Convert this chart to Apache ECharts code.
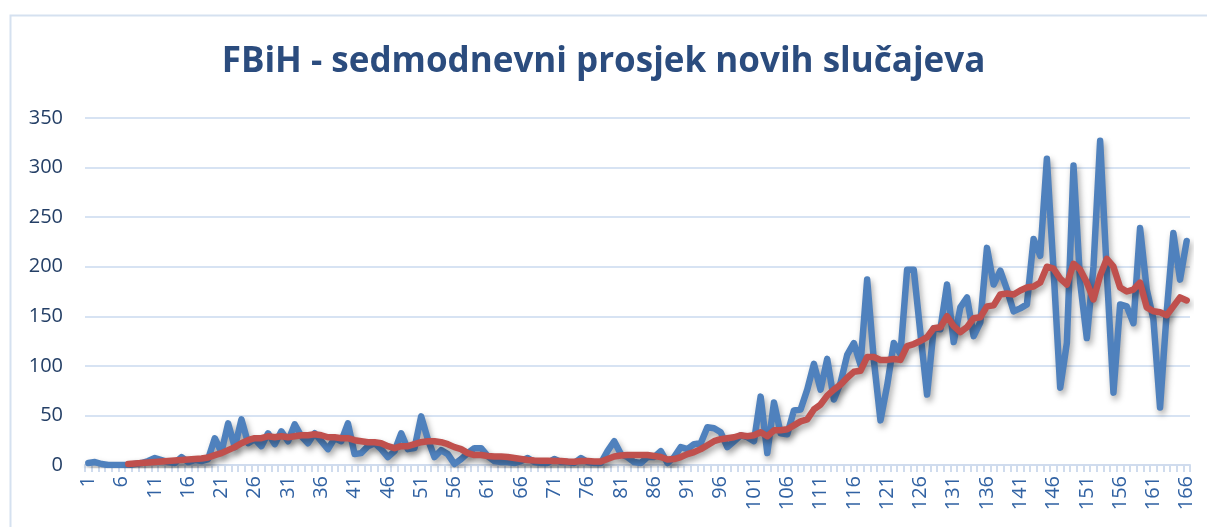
<!DOCTYPE html>
<html><head><meta charset="utf-8">
<script src="https://cdn.jsdelivr.net/npm/echarts@6/dist/echarts.min.js"></script>
<style>html,body{margin:0;padding:0;background:#fff}#c{width:1207px;height:527px}</style>
</head><body><div id="c"></div>
<script>
const titleText = 'FBiH - sedmodnevni prosjek novih slučajeva';
const yTicks = [0, 50, 100, 150, 200, 250, 300, 350];
const days = Array.from({length: 166}, (_, i) => String(i + 1));
const dailyCases = [
  2,3,1,0,0,0,0,1,2,4, 7,5,3,2,8,3,5,4,6,27,
  13,42,18,46,22,26,19,32,21,34, 24,41,29,22,32,24,16,27,24,42,
  11,12,19,22,16,8,14,32,16,17, 49,26,8,15,11,1,6,12,17,17,
  9,4,3,3,2,4,7,3,2,2, 6,3,3,2,7,3,2,2,14,24,
  11,8,3,2,8,8,14,2,8,18, 16,21,22,38,37,33,18,24,30,28,
  24,69,12,63,32,31,55,56,76,102, 76,107,66,83,111,123,101,187,106,45,
  80,123,112,197,197,133,71,138,137,182, 124,159,169,130,144,219,182,196,177,155,
  158,162,228,211,309,197,78,123,302,184, 128,200,327,194,73,162,160,143,239,177,
  147,58,154,234,187,226
];
const avg7 = [
  null,null,null,null,null,null,1,1.5,2,2.5, 3,3.5,4,4.5,5,5.5,6,6.5,7.5,10,
  12,15,18,22,25,27,27,29,28,29, 28,29,30,30,31,30,28,28,27,27,
  25,24,23,23,22,19,17,19,19,21, 23,24,24,23,21,18,16,12,10,10,
  9,8.5,8.5,8,7,6,5,4.5,4.3,4.3, 4,4,3.5,3.3,4,4,3.5,3.5,6,8.5,
  9.5,10,10,10,10,9,8,5.5,6,8, 11,13,16,20,24,26,27,28,30,29,
  30,33,29,35,35,36,40,44,46,56, 61,70,76,81,88,94,95,109,109,106,
  106,107,106,120,122,125,129,138,139,150, 140,134,139,148,149,160,161,172,173,172,
  176,179,180,184,200,198,188,182,203,197, 184,167,191,208,200,179,175,177,184,159,
  155,154,151,160,169,166
];

const chart = echarts.init(document.getElementById('c'), null, {renderer: 'canvas'});
const shadow = {shadowColor: 'rgba(0,0,0,0.35)', shadowBlur: 6, shadowOffsetX: 2, shadowOffsetY: 4};
chart.setOption({
  animation: false,
  backgroundColor: '#fff',
  graphic: [{
    type: 'rect', left: 8, top: 13, silent: true,
    shape: {width: 1250, height: 600},
    style: {fill: 'none', stroke: '#d5e1f0', lineWidth: 2}
  }],
  title: {
    text: titleText, left: 'center', top: 40,
    textStyle: {fontFamily: 'Open Sans', fontWeight: 'bold', fontSize: 35, color: '#2b4c7e'}
  },
  grid: {left: 85, right: 17, top: 118, bottom: 62, containLabel: false},
  xAxis: {
    type: 'category', data: days, boundaryGap: true,
    axisLine: {lineStyle: {color: '#d0dcee', width: 2}},
    axisTick: {show: true, interval: 0, length: 7, lineStyle: {color: '#d0dcee', width: 2}},
    axisLabel: {interval: 4, rotate: 90, fontFamily: 'Open Sans', fontSize: 20, color: '#3162a3', margin: 11}
  },
  yAxis: {
    type: 'value', min: yTicks[0], max: yTicks[yTicks.length - 1], interval: 50,
    axisLine: {show: false}, axisTick: {show: false},
    axisLabel: {fontFamily: 'Open Sans', fontSize: 20, color: '#243f66', margin: 22},
    splitLine: {lineStyle: {color: '#d7e3f3', width: 2}}
  },
  series: [
    {type: 'line', name: 'Novi slučajevi', data: dailyCases, symbol: 'none', smooth: false,
     lineStyle: Object.assign({color: '#4f81bd', width: 6.5, join: 'round', cap: 'round'}, shadow), z: 2},
    {type: 'line', name: 'Sedmodnevni prosjek', data: avg7, symbol: 'none', smooth: false,
     lineStyle: Object.assign({color: '#c0504d', width: 6.5, join: 'round', cap: 'round'}, shadow), z: 3}
  ]
});
</script></body></html>
